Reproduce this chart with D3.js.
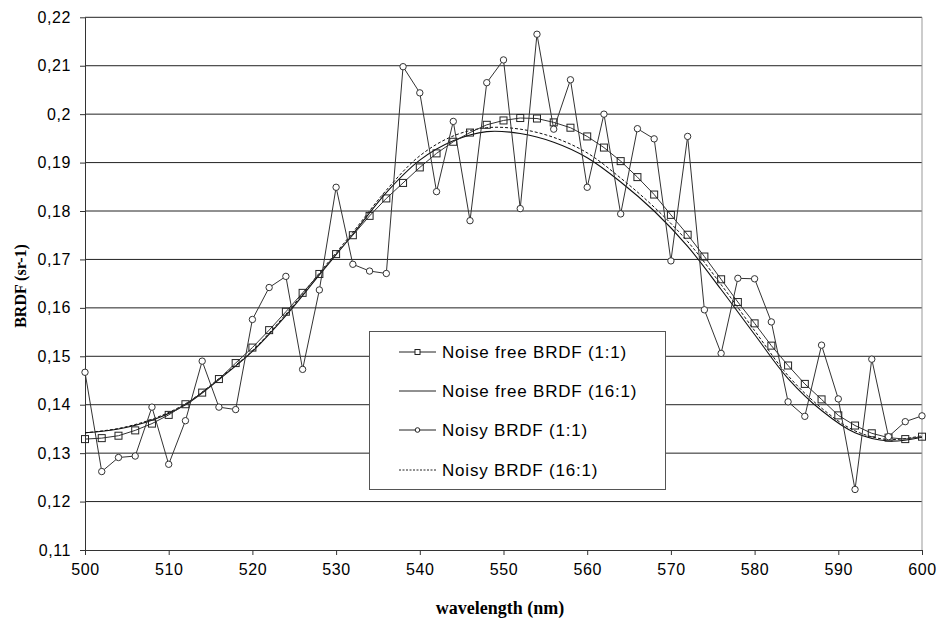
<!DOCTYPE html>
<html>
<head>
<meta charset="utf-8">
<script src="https://cdn.jsdelivr.net/npm/d3@7"></script>
<style>
body { margin:0; background:#fff; }
.tick text { font-family: Arial, "Liberation Sans", sans-serif; font-size:16px; letter-spacing:0.6px; fill:#000; }
.title { font-family: "Times New Roman", "Liberation Serif", serif; font-weight:bold; fill:#000; }
.leg { font-family: Arial, "Liberation Sans", sans-serif; font-size:17px; letter-spacing:0.8px; fill:#000; }
</style>
</head>
<body>
<svg id="chart"></svg>
<script>
// wavelengths of the 1:1 samples (nm)
var wavelengths = [500,502,504,506,508,510,512,514,516,518,520,522,524,526,528,530,532,534,536,538,
    540,542,544,546,548,550,552,554,556,558,560,562,564,566,568,570,572,574,576,578,
    580,582,584,586,588,590,592,594,596,598,600];

var noiseFree11 = [0.1329,0.1331,0.1336,0.1347,0.1361,0.1379,0.1401,0.1425,0.1453,0.1486,
    0.1518,0.1554,0.1592,0.1631,0.1670,0.1711,0.1750,0.1790,0.1826,0.1858,
    0.1890,0.1919,0.1943,0.1962,0.1978,0.1987,0.1992,0.1991,0.1983,0.1972,
    0.1954,0.1931,0.1903,0.1870,0.1834,0.1792,0.1751,0.1706,0.1659,0.1612,
    0.1568,0.1522,0.1481,0.1443,0.1411,0.1378,0.1357,0.1341,0.1332,0.1329,0.1334];

var noisy11 = [0.1467,0.1262,0.1291,0.1294,0.1395,0.1277,0.1367,0.1490,0.1395,0.1390,
    0.1576,0.1642,0.1665,0.1473,0.1637,0.1849,0.1690,0.1676,0.1671,0.2098,
    0.2044,0.1840,0.1985,0.1780,0.2065,0.2112,0.1805,0.2165,0.1969,0.2071,
    0.1849,0.2000,0.1794,0.1970,0.1949,0.1697,0.1954,0.1596,0.1506,0.1661,
    0.1660,0.1571,0.1406,0.1376,0.1523,0.1412,0.1225,0.1494,0.1334,0.1365,0.1377];

// 16:1 curves, read every 4 nm
var smoothWl = [500,504,508,512,516,520,524,528,532,536,540,544,548,552,556,560,564,568,572,576,580,584,588,592,596,600];
var noiseFree16 = [0.1342,0.1350,0.1368,0.1400,0.1452,0.1510,0.1584,0.1668,0.1752,0.1838,0.1905,0.1945,0.1964,
    0.1960,0.1942,0.1910,0.1860,0.1800,0.1727,0.1638,0.1545,0.1454,0.1388,0.1342,0.1325,0.1333];
var noisy16 = [0.1342,0.1351,0.1370,0.1402,0.1454,0.1512,0.1587,0.1672,0.1756,0.1843,0.1914,0.1955,0.1972,
    0.1969,0.1952,0.1920,0.1868,0.1808,0.1737,0.1648,0.1553,0.1460,0.1393,0.1346,0.1328,0.1336];

var xTicks = [500,510,520,530,540,550,560,570,580,590,600];
var yTicks = [0.11,0.12,0.13,0.14,0.15,0.16,0.17,0.18,0.19,0.2,0.21,0.22];

var legendNames = ["Noise free BRDF (1:1)","Noise free BRDF (16:1)","Noisy BRDF (1:1)","Noisy BRDF (16:1)"];

var screen = {width:942, height:622};
var plot = {left:85, right:922, top:17.3, bottom:550};

var svg = d3.select("#chart")
    .attr("width", screen.width)
    .attr("height", screen.height);

var xScale = d3.scaleLinear().domain([500,600]).range([plot.left, plot.right]);
var yScale = d3.scaleLinear().domain([0.11,0.22]).range([plot.bottom, plot.top]);

var comma = function(v){ return d3.format("~g")(+v.toFixed(2)).replace(".", ","); };

// gridlines
svg.append("g")
    .selectAll("line")
    .data(yTicks.slice(1))
    .enter().append("line")
    .attr("x1", plot.left).attr("x2", plot.right)
    .attr("y1", function(d){ return yScale(d); })
    .attr("y2", function(d){ return yScale(d); })
    .attr("stroke", "#222").attr("stroke-width", 1);

// right border
svg.append("line")
    .attr("x1", plot.right).attr("x2", plot.right)
    .attr("y1", plot.top).attr("y2", plot.bottom)
    .attr("stroke", "#999");

// axes
var xAxis = d3.axisBottom(xScale).tickValues(xTicks).tickSize(5).tickSizeOuter(0).tickPadding(9);
var yAxis = d3.axisLeft(yScale).tickValues(yTicks).tickSize(5).tickSizeOuter(0).tickPadding(9).tickFormat(comma);

var gx = svg.append("g")
    .attr("transform", "translate(0," + plot.bottom + ")")
    .call(xAxis);
var gy = svg.append("g")
    .attr("transform", "translate(" + plot.left + ",0)")
    .call(yAxis);
gx.select(".domain").attr("stroke", "#333");
gy.select(".domain").attr("stroke", "#333");
gx.selectAll(".tick line").attr("stroke", "#333");
gy.selectAll(".tick line").attr("stroke", "#333");

// series
var line11 = function(vals){
    return d3.line()
        .x(function(d, i){ return xScale(wavelengths[i]); })
        .y(function(d){ return yScale(d); })(vals);
};
var line16 = function(vals){
    return d3.line()
        .curve(d3.curveCatmullRom)
        .x(function(d, i){ return xScale(smoothWl[i]); })
        .y(function(d){ return yScale(d); })(vals);
};

var series = svg.append("g");

series.append("path")
    .attr("d", line16(noiseFree16))
    .attr("fill", "none").attr("stroke", "#111").attr("stroke-width", 1.1);

series.append("path")
    .attr("d", line16(noisy16))
    .attr("fill", "none").attr("stroke", "#111").attr("stroke-width", 1)
    .attr("stroke-dasharray", "3,2");

series.append("path")
    .attr("d", line11(noiseFree11))
    .attr("fill", "none").attr("stroke", "#333").attr("stroke-width", 1);

series.append("path")
    .attr("d", line11(noisy11))
    .attr("fill", "none").attr("stroke", "#333").attr("stroke-width", 1);

series.append("g")
    .selectAll("rect")
    .data(noiseFree11)
    .enter().append("rect")
    .attr("x", function(d, i){ return xScale(wavelengths[i]) - 3.5; })
    .attr("y", function(d){ return yScale(d) - 3.5; })
    .attr("width", 7).attr("height", 7)
    .attr("fill", "none").attr("stroke", "#222");

series.append("g")
    .selectAll("circle")
    .data(noisy11)
    .enter().append("circle")
    .attr("cx", function(d, i){ return xScale(wavelengths[i]); })
    .attr("cy", function(d){ return yScale(d); })
    .attr("r", 3.2)
    .attr("fill", "#fff").attr("stroke", "#333");

// axis titles
svg.append("text")
    .attr("class", "title")
    .attr("x", 500).attr("y", 614)
    .attr("text-anchor", "middle")
    .style("font-size", "18px")
    .text("wavelength (nm)");

svg.append("text")
    .attr("class", "title")
    .attr("transform", "translate(26,286) rotate(-90)")
    .attr("text-anchor", "middle")
    .style("font-size", "16px")
    .text("BRDF (sr-1)");

// legend
var legend = svg.append("g");
legend.append("rect")
    .attr("x", 369.5).attr("y", 331.5)
    .attr("width", 296).attr("height", 158)
    .attr("fill", "#fff").attr("stroke", "#555");

var legY = [352, 391, 430, 470];
var rows = legend.selectAll("g.row")
    .data(legendNames)
    .enter().append("g")
    .attr("class", "row")
    .attr("transform", function(d, i){ return "translate(0," + legY[i] + ")"; });

rows.append("line")
    .attr("x1", 399).attr("x2", 436).attr("y1", 0).attr("y2", 0)
    .attr("stroke", "#222")
    .attr("stroke-dasharray", function(d, i){ return i == 3 ? "2,1.5" : null; });

rows.filter(function(d, i){ return i == 0; })
    .append("rect")
    .attr("x", 415).attr("y", -2.5).attr("width", 5).attr("height", 5)
    .attr("fill", "#fff").attr("stroke", "#222");

rows.filter(function(d, i){ return i == 2; })
    .append("circle")
    .attr("cx", 417.5).attr("cy", 0).attr("r", 2.3)
    .attr("fill", "#fff").attr("stroke", "#222");

rows.append("text")
    .attr("class", "leg")
    .attr("x", 442).attr("y", 6)
    .text(function(d){ return d; });
</script>
</body>
</html>
